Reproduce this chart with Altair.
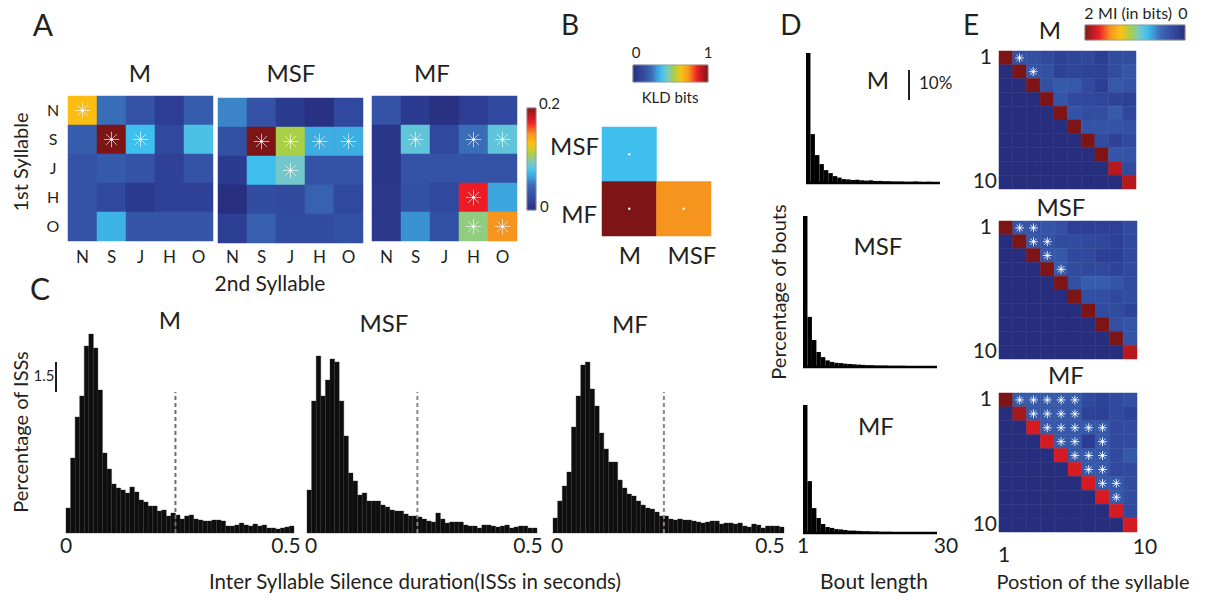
import altair as alt
import numpy as np
import pandas as pd

FONT = "Lato"
INK = "#231f20"

# ------------------------------------------------------------------ data
SYLLABLES = ["N", "S", "J", "H", "O"]

# Panel A: mutual information between 1st (rows) and 2nd (cols) syllable (bits)
MI_M = [
    [0.132, 0.052, 0.036, 0.016, 0.042],
    [0.042, 0.200, 0.076, 0.026, 0.080],
    [0.036, 0.040, 0.036, 0.020, 0.036],
    [0.036, 0.026, 0.014, 0.020, 0.020],
    [0.036, 0.072, 0.038, 0.038, 0.038],
]
MI_MSF = [
    [0.058, 0.036, 0.014, 0.006, 0.026],
    [0.034, 0.200, 0.110, 0.070, 0.070],
    [0.014, 0.076, 0.092, 0.036, 0.036],
    [0.004, 0.030, 0.028, 0.045, 0.026],
    [0.018, 0.044, 0.030, 0.030, 0.034],
]
MI_MF = [
    [0.036, 0.014, 0.006, 0.016, 0.026],
    [0.010, 0.086, 0.026, 0.052, 0.086],
    [0.010, 0.036, 0.036, 0.036, 0.036],
    [0.012, 0.034, 0.026, 0.172, 0.068],
    [0.012, 0.062, 0.034, 0.102, 0.150],
]
SIG_M = [("N", "N"), ("S", "S"), ("S", "J")]
SIG_MSF = [("S", "S"), ("S", "J"), ("S", "H"), ("S", "O"), ("J", "J")]
SIG_MF = [("S", "S"), ("S", "H"), ("S", "O"), ("H", "H"), ("O", "H"), ("O", "O")]

# Panel B: KLD between contexts
KLD_ROWS = ["MSF", "MF"]
KLD_COLS = ["M", "MSF"]
KLD_ROW = ["MSF", "MF", "MF"]
KLD_COL = ["M", "M", "MSF"]
KLD_BITS = [0.38, 1.00, 0.75]

# Panel C: ISS histograms (percentage per 10 ms bin, 0-0.5 s)
ISS_BIN = 0.01
ISS_THRESHOLD = 0.24
ISS_M = [1.25, 3.75, 5.80, 6.85, 9.35, 9.95, 9.25, 7.15, 4.00, 3.20,
         2.45, 2.25, 2.15, 2.00, 2.30, 2.05, 1.65, 1.55, 1.35, 1.35,
         1.10, 1.15, 0.85, 1.00, 0.90, 0.70, 0.85, 0.90, 0.70, 0.65,
         0.60, 0.60, 0.65, 0.65, 0.60, 0.35, 0.35, 0.40, 0.50, 0.40,
         0.35, 0.45, 0.35, 0.40, 0.25, 0.25, 0.20, 0.25, 0.30, 0.35]
ISS_MSF = [2.15, 6.60, 8.85, 6.85, 7.65, 8.70, 8.55, 6.60, 4.85, 3.00,
           2.60, 1.90, 2.00, 1.60, 1.60, 1.60, 1.40, 1.30, 1.15, 1.10,
           1.10, 0.95, 0.85, 0.85, 0.80, 0.70, 0.60, 0.55, 1.00, 0.70,
           0.50, 0.55, 0.55, 0.55, 0.40, 0.35, 0.35, 0.25, 0.40, 0.40,
           0.35, 0.30, 0.35, 0.40, 0.25, 0.30, 0.35, 0.35, 0.25, 0.25]
ISS_MF = [0.75, 1.60, 2.35, 3.05, 5.30, 6.85, 8.40, 8.55, 7.20, 6.35,
          5.00, 4.20, 3.55, 3.55, 2.65, 2.25, 1.95, 1.85, 1.60, 1.40,
          1.25, 1.20, 1.05, 0.85, 0.85, 0.70, 0.65, 0.70, 0.65, 0.65,
          0.60, 0.55, 0.50, 0.55, 0.60, 0.60, 0.45, 0.50, 0.50, 0.45,
          0.50, 0.35, 0.30, 0.45, 0.40, 0.25, 0.35, 0.35, 0.35, 0.30]

# Panel D: bout length distributions (percentage of bouts, length 1..30)
BOUT_M = [43.3, 16.3, 9.3, 6.3, 4.3, 3.3, 2.3, 1.8, 1.3, 1.2, 1.0, 1.1, 0.9, 0.8, 0.9,
          0.7, 0.7, 0.6, 0.6, 0.5, 0.5, 0.5, 0.4, 0.4, 0.5, 0.4, 0.3, 0.4, 0.3, 0.3]
BOUT_MSF = [50.3, 16.7, 9.0, 5.0, 3.3, 2.2, 1.7, 1.4, 1.3, 1.1, 1.0, 0.9, 0.8, 0.7, 0.6,
            0.6, 0.5, 0.5, 0.5, 0.4, 0.4, 0.4, 0.4, 0.3, 0.3, 0.3, 0.3, 0.3, 0.3, 0.3]
BOUT_MF = [42.7, 17.3, 8.3, 5.0, 3.0, 2.0, 1.7, 1.3, 1.2, 1.0, 0.8, 0.8, 0.7, 0.6, 0.6,
           0.5, 0.5, 0.4, 0.4, 0.4, 0.3, 0.3, 0.3, 0.3, 0.3, 0.3, 0.2, 0.2, 0.2, 0.2]

# Panel E: MI between syllable positions (bits)
POS_M = [
    [2.00, 0.33, 0.33, 0.28, 0.20, 0.23, 0.27, 0.17, 0.30, 0.31],
    [0.03, 2.00, 0.37, 0.33, 0.20, 0.23, 0.21, 0.20, 0.30, 0.38],
    [0.03, 0.03, 2.00, 0.32, 0.40, 0.39, 0.28, 0.18, 0.39, 0.36],
    [0.03, 0.03, 0.03, 2.00, 0.37, 0.26, 0.25, 0.24, 0.22, 0.19],
    [0.03, 0.03, 0.03, 0.03, 2.00, 0.36, 0.30, 0.31, 0.41, 0.24],
    [0.03, 0.03, 0.03, 0.03, 0.03, 2.00, 0.36, 0.36, 0.36, 0.33],
    [0.03, 0.03, 0.03, 0.03, 0.03, 0.03, 2.00, 0.29, 0.20, 0.28],
    [0.03, 0.03, 0.03, 0.03, 0.03, 0.03, 0.03, 2.00, 0.38, 0.36],
    [0.03, 0.03, 0.03, 0.03, 0.03, 0.03, 0.03, 0.03, 1.86, 0.29],
    [0.03, 0.03, 0.03, 0.03, 0.03, 0.03, 0.03, 0.03, 0.03, 1.86],
]
POS_MSF = [
    [2.00, 0.36, 0.36, 0.37, 0.32, 0.19, 0.18, 0.19, 0.19, 0.30],
    [0.03, 2.00, 0.38, 0.36, 0.29, 0.30, 0.26, 0.25, 0.19, 0.28],
    [0.03, 0.03, 2.00, 0.38, 0.39, 0.26, 0.26, 0.19, 0.18, 0.28],
    [0.03, 0.03, 0.03, 2.00, 0.40, 0.29, 0.27, 0.26, 0.22, 0.28],
    [0.03, 0.03, 0.03, 0.03, 2.00, 0.32, 0.42, 0.42, 0.38, 0.29],
    [0.03, 0.03, 0.03, 0.03, 0.03, 2.00, 0.32, 0.32, 0.27, 0.30],
    [0.03, 0.03, 0.03, 0.03, 0.03, 0.03, 2.00, 0.29, 0.29, 0.22],
    [0.03, 0.03, 0.03, 0.03, 0.03, 0.03, 0.03, 2.00, 0.32, 0.37],
    [0.03, 0.03, 0.03, 0.03, 0.03, 0.03, 0.03, 0.03, 2.00, 0.37],
    [0.03, 0.03, 0.03, 0.03, 0.03, 0.03, 0.03, 0.03, 0.03, 1.86],
]
POS_MF = [
    [2.00, 0.40, 0.40, 0.40, 0.40, 0.40, 0.28, 0.22, 0.28, 0.32],
    [0.03, 1.90, 0.39, 0.39, 0.39, 0.39, 0.22, 0.19, 0.28, 0.22],
    [0.03, 0.03, 1.78, 0.39, 0.39, 0.39, 0.39, 0.39, 0.28, 0.30],
    [0.03, 0.03, 0.03, 1.78, 0.39, 0.39, 0.16, 0.39, 0.28, 0.30],
    [0.03, 0.03, 0.03, 0.03, 1.78, 0.39, 0.39, 0.39, 0.28, 0.39],
    [0.03, 0.03, 0.03, 0.03, 0.03, 1.78, 0.39, 0.39, 0.26, 0.28],
    [0.03, 0.03, 0.03, 0.03, 0.03, 0.03, 1.78, 0.39, 0.39, 0.30],
    [0.03, 0.03, 0.03, 0.03, 0.03, 0.03, 0.03, 1.78, 0.39, 0.30],
    [0.03, 0.03, 0.03, 0.03, 0.03, 0.03, 0.03, 0.03, 1.78, 0.28],
    [0.03, 0.03, 0.03, 0.03, 0.03, 0.03, 0.03, 0.03, 0.03, 1.78],
]
# significant cells (row, col), 1-based positions
POS_SIG_M = [(1, 2), (2, 3)]
POS_SIG_MSF = [(1, 2), (1, 3), (2, 3), (2, 4), (3, 4), (4, 5)]
POS_SIG_MF = [(1, 2), (1, 3), (1, 4), (1, 5), (1, 6),
              (2, 3), (2, 4), (2, 5), (2, 6),
              (3, 4), (3, 5), (3, 6), (3, 7), (3, 8),
              (4, 5), (4, 6), (4, 8),
              (5, 6), (5, 7), (5, 8),
              (6, 7), (6, 8),
              (7, 8), (7, 9),
              (8, 9)]

# ------------------------------------------------------------------ styling
JET_STOPS = [0.0, 0.08, 0.18, 0.26, 0.32, 0.38, 0.46, 0.55, 0.65, 0.75, 0.86, 1.0]
JET_COLORS = ["#262a78", "#2c3d93", "#3453a6", "#3a6db7", "#3a9ad6", "#3fbfed",
              "#74c8cc", "#a8cf45", "#fdc20f", "#f7941d", "#ed1c24", "#7d1517"]


def jet(vmax):
    return alt.Scale(domain=[s * vmax for s in JET_STOPS], range=JET_COLORS,
                     interpolate="rgb", nice=False, zero=False)


def qs(domain, rng):
    return alt.Scale(domain=list(domain), range=list(rng), nice=False, zero=False)


STAR_PATH = "M-1,0L1,0M0,-1L0,1M-0.7,-0.7L0.7,0.7M-0.7,0.7L0.7,-0.7"
layers = []


def txt(text, x, y, size, align="center", angle=0, color=INK):
    layers.append(
        alt.Chart(pd.DataFrame({"t": [text]}))
        .mark_text(align=align, baseline="middle", fontSize=size, font=FONT,
                   angle=angle, color=color)
        .encode(x=alt.value(x), y=alt.value(y), text="t:N")
    )


def heatmap(cells, n_rows, n_cols, box, cscale, stars=(), star_size=200,
            star_width=1.0, star_opacity=0.85, dot_size=0):
    x0, x1, y0, y1 = box
    df = pd.DataFrame(cells, columns=["r", "c", "v"])
    df["r1"] = df["r"] + 1
    df["c1"] = df["c"] + 1
    xs = qs([0, n_cols], [x0, x1])
    ys = qs([0, n_rows], [y0, y1])
    layers.append(
        alt.Chart(df).mark_rect(strokeWidth=0.5).encode(
            x=alt.X("c:Q", scale=xs, axis=None), x2="c1",
            y=alt.Y("r:Q", scale=ys, axis=None), y2="r1",
            color=alt.Color("v:Q", scale=cscale, legend=None),
            stroke=alt.Stroke("v:Q", scale=cscale, legend=None),
        )
    )
    if stars:
        sdf = pd.DataFrame({"r": [s[0] + 0.5 for s in stars],
                            "c": [s[1] + 0.5 for s in stars]})
        if star_size:
            layers.append(
                alt.Chart(sdf).mark_point(shape=STAR_PATH, size=star_size, color="white",
                                          strokeWidth=star_width, opacity=star_opacity)
                .encode(x=alt.X("c:Q", scale=xs, axis=None),
                        y=alt.Y("r:Q", scale=ys, axis=None))
            )
        if dot_size:
            layers.append(
                alt.Chart(sdf).mark_point(shape="circle", filled=True, size=dot_size,
                                          color="white", opacity=0.95)
                .encode(x=alt.X("c:Q", scale=xs, axis=None),
                        y=alt.Y("r:Q", scale=ys, axis=None))
            )
    return xs, ys


def colorbar(vmax, box, vertical, reverse=False):
    x0, x1, y0, y1 = box
    edges = np.linspace(0, vmax, 121)
    df = pd.DataFrame({"a": edges[:-1], "b": edges[1:], "v": (edges[:-1] + edges[1:]) / 2})
    cs = jet(vmax)
    if vertical:
        enc = dict(y=alt.Y("a:Q", scale=qs([0, vmax], [y1, y0]), axis=None), y2="b",
                   x=alt.value(x0), x2=alt.value(x1))
    else:
        rng = [x1, x0] if reverse else [x0, x1]
        enc = dict(x=alt.X("a:Q", scale=qs([0, vmax], rng), axis=None), x2="b",
                   y=alt.value(y0), y2=alt.value(y1))
    layers.append(
        alt.Chart(df).mark_rect(strokeWidth=0.6).encode(
            color=alt.Color("v:Q", scale=cs, legend=None),
            stroke=alt.Stroke("v:Q", scale=cs, legend=None), **enc)
    )
    layers.append(
        alt.Chart(pd.DataFrame({"d": [0]})).mark_rect(fillOpacity=0, stroke="#9a9a9a",
                                                      strokeWidth=0.8)
        .encode(x=alt.value(x0), x2=alt.value(x1), y=alt.value(y0), y2=alt.value(y1))
    )


def histogram(values, start, bin_w, x_dom, x_rng, base, top, y_max, color="#0e0e0e",
              sep=True):
    df = pd.DataFrame({"x0": [start + i * bin_w for i in range(len(values))],
                       "v": values})
    df["x1"] = df["x0"] + bin_w
    df["z"] = 0.0
    xs = qs(x_dom, x_rng)
    ys = qs([0, y_max], [base, top])
    mk = alt.Chart(df).mark_rect(color=color, stroke="#2b2b2b", strokeWidth=0.35) if sep \
        else alt.Chart(df).mark_rect(color=color)
    layers.append(mk.encode(x=alt.X("x0:Q", scale=xs, axis=None), x2="x1",
                            y=alt.Y("z:Q", scale=ys, axis=None), y2="v"))
    return xs, ys


# ------------------------------------------------------------------ panel A
A_BOXES = [(68, 213, 96, 241), (218, 363, 98, 243), (372, 517, 96, 241)]
A_TITLES = ["M", "MSF", "MF"]
A_TITLE_X = [140, 291, 432]
csA = jet(0.2)
for mat, sig, box, title, tx in zip([MI_M, MI_MSF, MI_MF], [SIG_M, SIG_MSF, SIG_MF],
                                    A_BOXES, A_TITLES, A_TITLE_X):
    cells = [(i, j, mat[i][j]) for i in range(5) for j in range(5)]
    stars = [(SYLLABLES.index(r), SYLLABLES.index(c)) for r, c in sig]
    xs, ys = heatmap(cells, 5, 5, box, csA, stars, star_size=240, star_width=0.9,
                     star_opacity=0.7, dot_size=7)
    layers.append(
        alt.Chart(pd.DataFrame({"c": [k + 0.5 for k in range(5)], "t": SYLLABLES}))
        .mark_text(fontSize=17, font=FONT, color=INK, baseline="middle")
        .encode(x=alt.X("c:Q", scale=xs, axis=None), y=alt.value(258), text="t:N")
    )
    txt(title, tx, 75, 24)
    if title == "M":
        layers.append(
            alt.Chart(pd.DataFrame({"r": [k + 0.5 for k in range(5)], "t": SYLLABLES}))
            .mark_text(fontSize=16, font=FONT, color=INK, baseline="middle")
            .encode(y=alt.Y("r:Q", scale=ys, axis=None), x=alt.value(53), text="t:N")
        )

colorbar(0.2, (527, 536, 108, 210), vertical=True)
txt("0.2", 539, 104, 15, align="left")
txt("0", 540, 207, 15, align="left")
txt("2nd Syllable", 270, 285, 21)
txt("1st Syllable", 22, 162, 20, angle=270)
txt("A", 43, 27, 30)

# ------------------------------------------------------------------ panel B
b_cells = [(KLD_ROWS.index(r), KLD_COLS.index(c), v)
           for r, c, v in zip(KLD_ROW, KLD_COL, KLD_BITS)]
xsB, ysB = heatmap(b_cells, 2, 2, (602, 711, 127, 236), jet(1.0),
                   [(r, c) for r, c, _ in b_cells], star_size=0, dot_size=6)
colorbar(1.0, (633, 708, 65, 82), vertical=False)
txt("0", 636, 53, 15)
txt("1", 708, 53, 15)
txt("KLD bits", 670, 98, 15)
txt("MSF", 599, 148, 24, align="right")
txt("MF", 597, 216, 24, align="right")
txt("M", 630, 257, 24)
txt("MSF", 692, 257, 24)
txt("B", 570, 27, 28)

# ------------------------------------------------------------------ panel C
C_XR = [(66, 294), (307, 537), (553, 784)]
C_BASE = 533
C_PX_PER_PCT = 20
C_YMAX = 10
C_TOP = C_BASE - C_PX_PER_PCT * C_YMAX
C_HIST = [ISS_M, ISS_MSF, ISS_MF]
C_TITLES = [("M", 170, 322), ("MSF", 384, 325), ("MF", 630, 326)]
C_DASH_COLORS = ["#6d6e71", "#8f8288", "#8f8288"]
C_DASH_TOP = 7.05
C_ZERO_DX = [0, 4, 4]
C_HALF_DX = [-8, -9, -14]
for k in range(3):
    xs, ys = histogram(C_HIST[k], 0.0, ISS_BIN, [0, 0.5], C_XR[k], C_BASE, C_TOP, C_YMAX)
    layers.append(
        alt.Chart(pd.DataFrame({"x": [ISS_THRESHOLD], "a": [0.0], "b": [C_DASH_TOP]}))
        .mark_rule(color=C_DASH_COLORS[k], strokeWidth=2, strokeDash=[4, 3])
        .encode(x=alt.X("x:Q", scale=xs, axis=None),
                y=alt.Y("a:Q", scale=ys, axis=None), y2="b")
    )
    for val, lab, dx in [(0.0, "0", C_ZERO_DX[k]), (0.5, "0.5", C_HALF_DX[k])]:
        layers.append(
            alt.Chart(pd.DataFrame({"x": [val], "t": [lab]}))
            .mark_text(fontSize=21, font=FONT, color=INK, baseline="middle", dx=dx)
            .encode(x=alt.X("x:Q", scale=xs, axis=None), y=alt.value(547), text="t:N")
        )
    t, tx, ty = C_TITLES[k]
    txt(t, tx, ty, 24)
    if k == 0:
        layers.append(
            alt.Chart(pd.DataFrame({"a": [7.05], "b": [7.05 + 1.5]}))
            .mark_rule(color=INK, strokeWidth=2)
            .encode(x=alt.value(56), y=alt.Y("a:Q", scale=ys, axis=None), y2="b")
        )
txt("1.5", 44, 376, 15)
txt("Inter Syllable Silence duration(ISSs in seconds)", 415, 583, 20.5)
txt("Percentage of ISSs", 22, 432, 20, angle=270)
txt("C", 40, 291, 30)

# ------------------------------------------------------------------ panel D
D_XR = [(806, 940), (803, 937), (803, 937)]
D_BASE = [183, 367, 533]
D_PX_PER_PCT = 3.0
D_YMAX = 55
D_HIST = [BOUT_M, BOUT_MSF, BOUT_MF]
D_TITLES = [("M", 878, 82), ("MSF", 878, 248), ("MF", 876, 428)]
for k in range(3):
    xs, ys = histogram(D_HIST[k], 1, 1, [1, 31], D_XR[k], D_BASE[k],
                       D_BASE[k] - D_PX_PER_PCT * D_YMAX, D_YMAX, color="#000000", sep=False)
    layers.append(
        alt.Chart(pd.DataFrame({"a": [1], "b": [31], "z": [0.0]}))
        .mark_rule(color="#000000", strokeWidth=2.6)
        .encode(x=alt.X("a:Q", scale=xs, axis=None), x2="b",
                y=alt.Y("z:Q", scale=ys, axis=None))
    )
    t, tx, ty = D_TITLES[k]
    txt(t, tx, ty, 24)
    if k == 0:
        layers.append(
            alt.Chart(pd.DataFrame({"a": [27.7], "b": [37.7]}))
            .mark_rule(color=INK, strokeWidth=2)
            .encode(x=alt.value(909), y=alt.Y("a:Q", scale=ys, axis=None), y2="b")
        )
    if k == 2:
        for val, lab, dx in [(1, "1", 0), (31, "30", 9)]:
            layers.append(
                alt.Chart(pd.DataFrame({"x": [val], "t": [lab]}))
                .mark_text(fontSize=21, font=FONT, color=INK, baseline="middle", dx=dx)
                .encode(x=alt.X("x:Q", scale=xs, axis=None), y=alt.value(547), text="t:N")
            )
txt("10%", 919, 84, 17, align="left")
txt("Bout length", 874, 583, 21)
txt("Percentage of bouts", 780, 292, 20, angle=270)
txt("D", 791, 27, 28)

# ------------------------------------------------------------------ panel E
E_BOXES = [(999, 1136, 51, 189), (999, 1137, 221, 359), (999, 1137, 393, 532)]
E_TITLES = [("M", 1050, 32), ("MSF", 1061, 209), ("MF", 1066, 377)]
E_MATS = [POS_M, POS_MSF, POS_MF]
E_SIGS = [POS_SIG_M, POS_SIG_MSF, POS_SIG_MF]
csE = jet(2.0)
for k in range(3):
    mat = E_MATS[k]
    cells = [(i, j, mat[i][j]) for i in range(10) for j in range(10)]
    stars = [(r - 1, c - 1) for r, c in E_SIGS[k]]
    xs, ys = heatmap(cells, 10, 10, E_BOXES[k], csE, stars, star_size=80,
                     star_width=1.0, star_opacity=0.85, dot_size=5)
    t, tx, ty = E_TITLES[k]
    txt(t, tx, ty, 24)
    for val, lab, xr in [(0.5, "1", 992), (9.5, "10", 997)]:
        layers.append(
            alt.Chart(pd.DataFrame({"r": [val], "t": [lab]}))
            .mark_text(fontSize=21, font=FONT, color=INK, baseline="middle", align="right")
            .encode(y=alt.Y("r:Q", scale=ys, axis=None), x=alt.value(xr), text="t:N")
        )
txt("1", 1004, 556, 21)
txt("10", 1145, 548, 21)
txt("Postion of the syllable", 1093, 583, 20)
colorbar(2.0, (1085, 1185, 25, 40), vertical=False, reverse=True)
txt("2", 1089, 14, 16)
txt("MI (in bits)", 1135, 14, 16)
txt("0", 1183, 14, 16)
txt("E", 971, 27, 28)

# ------------------------------------------------------------------ assemble
chart = (
    alt.layer(*layers)
    .resolve_scale(x="independent", y="independent", color="independent",
                   stroke="independent")
    .properties(width=1218, height=601, padding=0,
                autosize=alt.AutoSizeParams(type="none"), background="white")
    .configure_view(stroke=None)
)

chart.save("out.html", embed_options={"renderer": "svg", "actions": False})
